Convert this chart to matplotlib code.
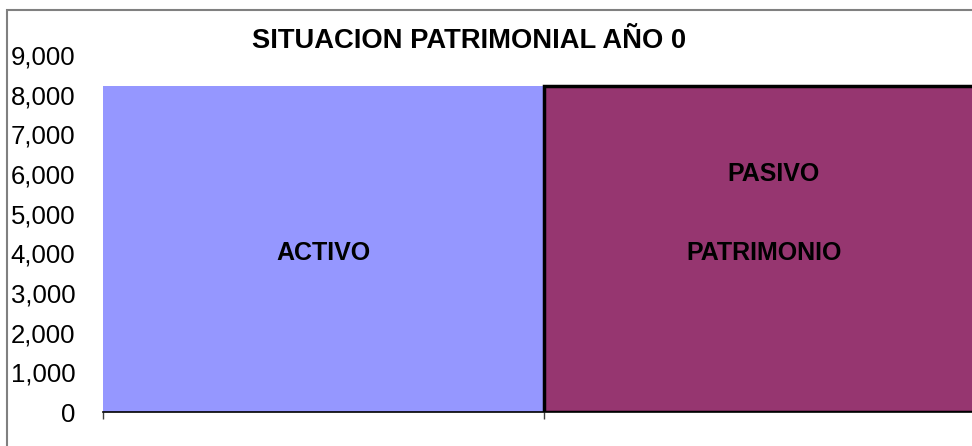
import matplotlib
matplotlib.use("Agg")
import matplotlib.pyplot as plt
from matplotlib.patches import Rectangle

plt.rcParams['font.family'] = ['Liberation Sans', 'DejaVu Sans']

categories = ["ACTIVO", "PASIVO + PATRIMONIO"]
values = [8230, 8230]
colors = ["#9597FF", "#963670"]
yticks = list(range(0, 9001, 1000))
title = "SITUACION PATRIMONIAL AÑO 0"

W, H = 972, 446
fig = plt.figure(figsize=(W/100, H/100), dpi=100)

# outer chart border
fig.patches.append(Rectangle((7/W, -0.1), 1.2, (H-10)/H + 0.1, transform=fig.transFigure,
                             fill=False, edgecolor="#808080", linewidth=1.5))

ax = fig.add_axes([103/W, (H-412)/H, 882/W, 357/H])
x = list(range(len(categories)))
ax.bar(x[0], values[0], width=1.0, color=colors[0], edgecolor="none")
ax.bar(x[1], values[1], width=1.0, color=colors[1], edgecolor="black", linewidth=2.5)

ax.set_xlim(-0.5, 1.5)
ax.set_ylim(0, 9000)
ax.set_yticks(yticks)
ax.set_yticklabels([f"{v:,}" for v in yticks], fontsize=18.5)
ax.tick_params(axis='y', length=0, pad=20)
ax.set_xticks([-0.5, 0.5, 1.5])
ax.set_xticklabels([])
ax.tick_params(axis='x', length=5, width=1, color="#404040", direction='out')

for s in ['top', 'right', 'left']:
    ax.spines[s].set_visible(False)
ax.spines['bottom'].set_linewidth(1.2)
ax.spines['bottom'].set_color('black')

ax.text(0, 4000, "ACTIVO", ha='center', va='center', fontsize=18, fontweight='bold')
ax.text(1.02, 6000, "PASIVO", ha='center', va='center', fontsize=18, fontweight='bold')
ax.text(1, 4000, "PATRIMONIO", ha='center', va='center', fontsize=18, fontweight='bold')

fig.text(469/W, 1 - 41/H, title, ha='center', va='center', fontsize=19.7, fontweight='bold')

fig.savefig("out.png", dpi=100)
